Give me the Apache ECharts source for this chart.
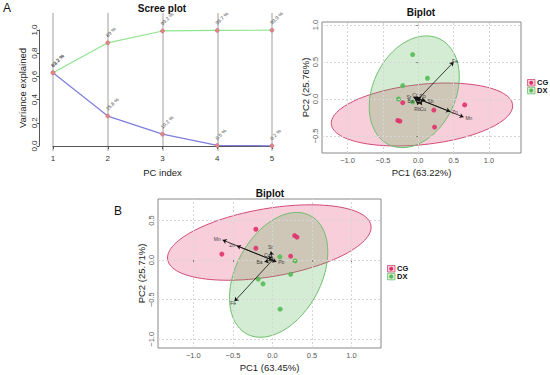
<!DOCTYPE html>
<html><head><meta charset="utf-8">
<script src="https://cdn.jsdelivr.net/npm/echarts@6/dist/echarts.min.js"></script>
<style>html,body{margin:0;padding:0;background:#fff}#c{width:550px;height:375px}</style>
</head><body><div id="c"></div>
<script>
// ---------- data ----------
const pcIndex = [1, 2, 3, 4, 5];
const cumVar = [0.632, 0.890, 0.992, 0.997, 0.999];
const cumLabels = ['63.2 %', '89 %', '99.2 %', '99.7 %', '99.9 %'];
const indVar = [0.632, 0.258, 0.102, 0.005, 0.002];
const indLabels = ['63.2 %', '25.8 %', '10.2 %', '0.5 %', '0.2 %'];

const groups = ['CG', 'DX'];
const pcTicks = [-1, -0.5, 0, 0.5, 1];

// Biplot A
const titleA = 'Biplot';
const xNameA = 'PC1 (63.22%)';
const yNameA = 'PC2 (25.76%)';
const A_CG = [[0.656, -0.08], [-0.22, -0.05], [-0.29, -0.29], [-0.26, -0.30], [0.22, -0.15], [0.23, -0.38]];
const A_DX = [[-0.08, 0.60], [0.13, 0.28], [-0.22, 0.18], [-0.28, 0.0], [-0.08, -0.04]];
const A_vars = ['Fe', 'Mn', 'Zn', 'Sr', 'Cr', 'Pb', 'Sb', 'Ba', 'Rb', 'Cu'];
const A_loadX = [0.50, 0.64, 0.45, -0.07, -0.03, 0.04, 0.10, -0.04, -0.01, 0.05];
const A_loadY = [0.50, -0.245, -0.17, 0.02, 0.03, 0.03, -0.02, -0.02, -0.08, -0.08];
// ellipse: [cx, cy, semi-major, semi-minor, angle deg]
const A_ellCG = [0.052, -0.21, 1.289, 0.407, 5.8];
const A_ellDX = [-0.057, 0.097, 0.80, 0.579, 61.3];

// Biplot B
const titleB = 'Biplot';
const xNameB = 'PC1 (63.45%)';
const yNameB = 'PC2 (25.71%)';
const B_CG = [[-0.21, 0.39], [0.28, 0.31], [0.31, 0.29], [-0.21, 0.15], [-0.64, 0.076], [0.23, 0.05]];
const B_DX = [[0.093, 0.042], [0.286, -0.01], [0.23, -0.18], [-0.18, -0.24], [-0.12, -0.30], [0.097, -0.62]];
const B_vars = ['Mn', 'Zn', 'Fe', 'Cu', 'Ba', 'Pb', 'Sr'];
const B_loadX = [-0.63, -0.45, -0.48, -0.05, -0.10, 0.05, -0.02];
const B_loadY = [0.254, 0.18, -0.52, 0.05, -0.02, -0.02, 0.11];
const B_ellCG = [-0.04, 0.222, 1.303, 0.430, 9.6];
const B_ellDX = [0.078, -0.186, 0.848, 0.537, 61.6];

// ---------- styles ----------
const FONT = 'Liberation Sans, Arial, sans-serif';
const colCG = '#E0326A', colDX = '#55BB55';
const fillCG = 'rgba(232,60,110,0.25)', fillDX = 'rgba(80,180,80,0.25)';
const lineCG = '#D24A78', lineDX = '#6DBF6D';
const minus = v => (v < 0 ? '\u2212' : '') + Math.abs(v).toFixed(1);

function ellipseSeries(xi, yi, e, stroke, fill) {
  return {
    type: 'custom', xAxisIndex: xi, yAxisIndex: yi, silent: true, z: 2, clip: true,
    data: [[e[0], e[1]]],
    renderItem: function (params, api) {
      const pts = [], N = 120, th = e[4] * Math.PI / 180;
      for (let i = 0; i < N; i++) {
        const t = 2 * Math.PI * i / N;
        const x = e[0] + e[2] * Math.cos(t) * Math.cos(th) - e[3] * Math.sin(t) * Math.sin(th);
        const y = e[1] + e[2] * Math.cos(t) * Math.sin(th) + e[3] * Math.sin(t) * Math.cos(th);
        pts.push(api.coord([x, y]));
      }
      return { type: 'polygon', shape: { points: pts }, style: { fill: fill, stroke: stroke, lineWidth: 1 } };
    }
  };
}
function gridLines(xi, yi, xs, ys) {
  return {
    type: 'scatter', xAxisIndex: xi, yAxisIndex: yi, data: [], z: 1, silent: true,
    markLine: {
      silent: true, symbol: ['none', 'none'], label: { show: false },
      lineStyle: { color: '#d6d6d6', type: [2, 2], width: 1 },
      data: xs.map(v => ({ xAxis: v })).concat(ys.map(v => ({ yAxis: v })))
    }
  };
}
function pointSeries(xi, yi, name, data, color) {
  return { type: 'scatter', name: name, xAxisIndex: xi, yAxisIndex: yi, data: data, z: 4,
    symbolSize: 5, itemStyle: { color: color, opacity: 0.9 } };
}
function arrowSeries(xi, yi, names, lx, ly) {
  return {
    type: 'lines', coordinateSystem: 'cartesian2d', xAxisIndex: xi, yAxisIndex: yi, z: 5, silent: true,
    symbol: ['none', 'arrow'], symbolSize: 4,
    lineStyle: { color: '#111', width: 0.8, opacity: 1 },
    label: { show: true, position: 'end', formatter: '{b}', fontSize: 5, color: '#444', fontFamily: FONT, distance: 2 },
    data: names.map((n, i) => ({ name: n, coords: [[0, 0], [lx[i], ly[i]]] }))
  };
}
function biAxes(grid, min, max, ticks, name, gap, isY) {
  return {
    type: 'value', gridIndex: grid, min: min, max: max,
    name: name, nameLocation: 'middle', nameGap: gap,
    nameTextStyle: { fontSize: 9.5, color: '#222', fontFamily: FONT },
    axisLine: { show: false },
    axisTick: { show: true, length: 2, customValues: ticks, lineStyle: { color: '#777' } },
    axisLabel: { show: true, customValues: ticks, formatter: minus, fontSize: 7.5, color: '#555', fontFamily: FONT,
      margin: 3, rotate: isY ? 90 : 0 },
    splitLine: { show: false }
  };
}

const chart = echarts.init(document.getElementById('c'), null, { renderer: 'svg' });
const scatterLabel = (labels) => ({
  show: true, position: 'top', rotate: 45, align: 'left', verticalAlign: 'bottom', distance: 2, offset: [1, 0],
  fontSize: 5, color: '#444', fontFamily: FONT,
  formatter: p => labels[p.dataIndex]
});
const legText = (x, y, t) => ({ type: 'text', x: x, y: y,
  style: { text: t, fontSize: 7.5, lineHeight: 7, fontWeight: 'bold', fontFamily: FONT, fill: '#111', verticalAlign: 'middle' } });

const option = {
  animation: false,
  backgroundColor: '#fff',
  grid: [
    { left: 53, width: 219, top: 13, height: 138 },           // scree data
    { left: 53, width: 219, top: 30, height: 116 },           // scree axes
    { left: 322, width: 199, top: 22, height: 131, show: true, borderColor: '#888', borderWidth: 1, backgroundColor: 'transparent' },
    { left: 158, width: 223, top: 199, height: 149, show: true, borderColor: '#888', borderWidth: 1, backgroundColor: 'transparent' }
  ],
  xAxis: [
    { type: 'value', gridIndex: 0, min: 1, max: 5, interval: 1,
      axisLine: { show: false }, axisTick: { show: false }, axisLabel: { show: false },
      splitLine: { show: true, lineStyle: { color: '#cfcfcf', width: 2 } } },
    { type: 'value', gridIndex: 1, min: 1, max: 5, interval: 1, offset: 5,
      name: 'PC index', nameLocation: 'middle', nameGap: 16,
      nameTextStyle: { fontSize: 9.5, color: '#222', fontFamily: FONT },
      axisLine: { show: true, lineStyle: { color: '#555', width: 1 } },
      axisTick: { show: true, length: 3, lineStyle: { color: '#555' } },
      axisLabel: { fontSize: 8, color: '#333', margin: 3, fontFamily: FONT },
      splitLine: { show: false } },
    biAxes(2, -1.362, 1.453, pcTicks, xNameA, 14, false),
    biAxes(3, -1.447, 1.372, pcTicks, xNameB, 14, false)
  ],
  yAxis: [
    { type: 'value', gridIndex: 0, min: -0.043, max: 1.147, show: false, splitLine: { show: false } },
    { type: 'value', gridIndex: 1, min: 0, max: 1, interval: 0.2, offset: 14,
      name: 'Variance explained', nameLocation: 'middle', nameGap: 12,
      nameTextStyle: { fontSize: 9.5, color: '#222', fontFamily: FONT },
      axisLine: { show: true, lineStyle: { color: '#555', width: 1 } },
      axisTick: { show: true, length: 2, lineStyle: { color: '#555' } },
      axisLabel: { fontSize: 8, color: '#333', margin: 1, rotate: 90, fontFamily: FONT, formatter: v => v.toFixed(1) },
      splitLine: { show: false } },
    biAxes(2, -0.73, 1.04, [-0.5, 0, 0.5, 1], yNameA, 12, true),
    biAxes(3, -1.110, 0.772, [-1, -0.5, 0, 0.5], yNameB, 12, true)
  ],
  series: [
    { type: 'line', xAxisIndex: 0, yAxisIndex: 0, data: pcIndex.map((x, i) => [x, cumVar[i]]),
      lineStyle: { color: '#8EE58E', width: 1.2 }, symbol: 'circle', symbolSize: 4,
      itemStyle: { color: '#E08888', borderColor: '#C86870', borderWidth: 0.5 },
      label: scatterLabel(cumLabels), z: 3 },
    { type: 'line', xAxisIndex: 0, yAxisIndex: 0, data: pcIndex.map((x, i) => [x, indVar[i]]),
      lineStyle: { color: '#7E7EDC', width: 1.2 }, symbol: 'circle', symbolSize: 4,
      itemStyle: { color: '#E08888', borderColor: '#C86870', borderWidth: 0.5 },
      label: scatterLabel(indLabels), z: 3 },

    gridLines(2, 2, pcTicks, [-0.5, 0, 0.5, 1]),
    ellipseSeries(2, 2, A_ellCG, lineCG, fillCG),
    ellipseSeries(2, 2, A_ellDX, lineDX, fillDX),
    pointSeries(2, 2, groups[0], A_CG, colCG),
    pointSeries(2, 2, groups[1], A_DX, colDX),
    arrowSeries(2, 2, A_vars, A_loadX, A_loadY),

    gridLines(3, 3, pcTicks, [-1, -0.5, 0, 0.5]),
    ellipseSeries(3, 3, B_ellCG, lineCG, fillCG),
    ellipseSeries(3, 3, B_ellDX, lineDX, fillDX),
    pointSeries(3, 3, groups[0], B_CG, colCG),
    pointSeries(3, 3, groups[1], B_DX, colDX),
    arrowSeries(3, 3, B_vars, B_loadX, B_loadY)
  ],
  graphic: [
    { type: 'text', x: 3, y: 2, style: { text: 'A', fontSize: 12, fontFamily: FONT, fill: '#111' } },
    { type: 'text', x: 114, y: 205, style: { text: 'B', fontSize: 12, fontFamily: FONT, fill: '#111' } },
    { type: 'text', x: 162, y: 8, style: { text: 'Scree plot', fontSize: 10, fontWeight: 'bold', fontFamily: FONT, fill: '#111', align: 'center', verticalAlign: 'middle' } },
    { type: 'text', x: 421, y: 12, style: { text: titleA, fontSize: 10, fontWeight: 'bold', fontFamily: FONT, fill: '#111', align: 'center', verticalAlign: 'middle' } },
    { type: 'text', x: 270, y: 193, style: { text: titleB, fontSize: 10, fontWeight: 'bold', fontFamily: FONT, fill: '#111', align: 'center', verticalAlign: 'middle' } },
    // legend A
    { type: 'rect', shape: { x: 527.5, y: 79.5, width: 7.5, height: 6.5 }, style: { fill: fillCG, stroke: lineCG, lineWidth: 0.8 } },
    { type: 'circle', shape: { cx: 531.2, cy: 82.7, r: 2 }, style: { fill: colCG } },
    { type: 'rect', shape: { x: 527.5, y: 87.3, width: 7.5, height: 6.5 }, style: { fill: fillDX, stroke: lineDX, lineWidth: 0.8 } },
    { type: 'circle', shape: { cx: 531.2, cy: 90.5, r: 2 }, style: { fill: colDX } },
    legText(537, 82.8, groups[0]),
    legText(537, 90.8, groups[1]),
    // legend B
    { type: 'rect', shape: { x: 387.5, y: 265.5, width: 7.5, height: 6.5 }, style: { fill: fillCG, stroke: lineCG, lineWidth: 0.8 } },
    { type: 'circle', shape: { cx: 391.2, cy: 268.7, r: 2 }, style: { fill: colCG } },
    { type: 'rect', shape: { x: 387.5, y: 273.3, width: 7.5, height: 6.5 }, style: { fill: fillDX, stroke: lineDX, lineWidth: 0.8 } },
    { type: 'circle', shape: { cx: 391.2, cy: 276.5, r: 2 }, style: { fill: colDX } },
    legText(397, 268.8, groups[0]),
    legText(397, 276.8, groups[1])
  ]
};
chart.setOption(option);
</script>
</body></html>
